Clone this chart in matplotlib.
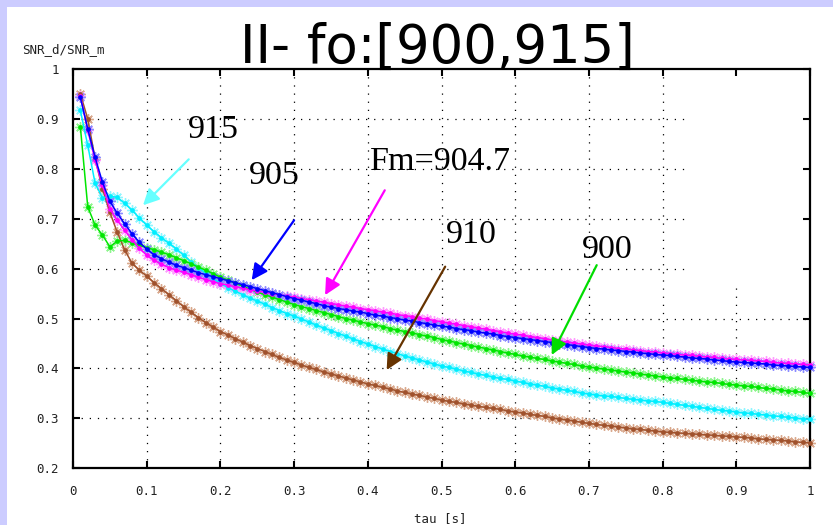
import numpy as np
import matplotlib
matplotlib.use("Agg")
import matplotlib.pyplot as plt
from matplotlib.patches import Rectangle

# Time constant axis (s)
tau = np.round(np.arange(1, 101) * 0.01, 2)

# SNR_d / SNR_m for each operating frequency
snr_900 = [
    0.884, 0.724, 0.687, 0.667, 0.644, 0.655, 0.657, 0.652, 0.647, 0.642,
    0.638, 0.633, 0.628, 0.622, 0.616, 0.610, 0.603, 0.597, 0.590, 0.583,
    0.577, 0.571, 0.565, 0.559, 0.553, 0.548, 0.543, 0.538, 0.533, 0.528,
    0.524, 0.520, 0.516, 0.512, 0.508, 0.504, 0.500, 0.497, 0.493, 0.490,
    0.487, 0.484, 0.480, 0.477, 0.474, 0.471, 0.468, 0.465, 0.462, 0.458,
    0.455, 0.452, 0.449, 0.446, 0.443, 0.440, 0.437, 0.434, 0.431, 0.428,
    0.425, 0.423, 0.420, 0.418, 0.415, 0.413, 0.410, 0.408, 0.405, 0.403,
    0.401, 0.399, 0.397, 0.395, 0.393, 0.391, 0.389, 0.387, 0.385, 0.383,
    0.381, 0.380, 0.378, 0.376, 0.375, 0.373, 0.372, 0.370, 0.368, 0.367,
    0.365, 0.364, 0.362, 0.360, 0.359, 0.357, 0.355, 0.354, 0.352, 0.350,
]
snr_905 = [
    0.943, 0.880, 0.823, 0.773, 0.735, 0.711, 0.690, 0.670, 0.653, 0.639,
    0.628, 0.620, 0.613, 0.607, 0.602, 0.597, 0.592, 0.588, 0.584, 0.580,
    0.576, 0.572, 0.568, 0.564, 0.560, 0.556, 0.552, 0.548, 0.544, 0.540,
    0.537, 0.533, 0.530, 0.526, 0.523, 0.520, 0.518, 0.515, 0.513, 0.510,
    0.507, 0.505, 0.502, 0.500, 0.497, 0.495, 0.492, 0.490, 0.487, 0.485,
    0.483, 0.480, 0.478, 0.476, 0.473, 0.471, 0.469, 0.466, 0.464, 0.462,
    0.460, 0.458, 0.456, 0.454, 0.452, 0.450, 0.448, 0.446, 0.444, 0.442,
    0.440, 0.439, 0.437, 0.436, 0.434, 0.433, 0.431, 0.430, 0.428, 0.427,
    0.426, 0.424, 0.423, 0.421, 0.420, 0.419, 0.417, 0.416, 0.414, 0.413,
    0.412, 0.411, 0.410, 0.409, 0.407, 0.406, 0.405, 0.404, 0.403, 0.402,
]
snr_910 = [
    0.950, 0.900, 0.820, 0.760, 0.713, 0.673, 0.638, 0.611, 0.597, 0.585,
    0.572, 0.560, 0.548, 0.536, 0.524, 0.513, 0.502, 0.492, 0.483, 0.474,
    0.467, 0.460, 0.453, 0.446, 0.440, 0.434, 0.428, 0.422, 0.417, 0.412,
    0.407, 0.402, 0.398, 0.393, 0.389, 0.385, 0.381, 0.377, 0.373, 0.369,
    0.366, 0.362, 0.359, 0.355, 0.352, 0.349, 0.346, 0.343, 0.340, 0.337,
    0.334, 0.332, 0.329, 0.327, 0.324, 0.322, 0.320, 0.318, 0.315, 0.313,
    0.311, 0.308, 0.306, 0.304, 0.301, 0.299, 0.297, 0.295, 0.292, 0.290,
    0.288, 0.286, 0.285, 0.283, 0.281, 0.279, 0.278, 0.276, 0.275, 0.273,
    0.272, 0.271, 0.270, 0.269, 0.268, 0.267, 0.266, 0.265, 0.264, 0.263,
    0.262, 0.261, 0.259, 0.258, 0.257, 0.256, 0.255, 0.253, 0.252, 0.251,
]
snr_915 = [
    0.917, 0.847, 0.771, 0.742, 0.745, 0.743, 0.731, 0.717, 0.702, 0.687,
    0.674, 0.662, 0.651, 0.640, 0.627, 0.614, 0.602, 0.591, 0.580, 0.570,
    0.562, 0.555, 0.548, 0.541, 0.535, 0.529, 0.522, 0.516, 0.510, 0.505,
    0.499, 0.493, 0.487, 0.481, 0.476, 0.470, 0.465, 0.459, 0.454, 0.449,
    0.444, 0.439, 0.434, 0.430, 0.425, 0.421, 0.417, 0.413, 0.409, 0.405,
    0.402, 0.399, 0.395, 0.392, 0.389, 0.386, 0.383, 0.380, 0.378, 0.375,
    0.372, 0.369, 0.367, 0.364, 0.361, 0.359, 0.356, 0.354, 0.351, 0.349,
    0.347, 0.345, 0.344, 0.342, 0.340, 0.338, 0.337, 0.335, 0.334, 0.332,
    0.330, 0.328, 0.326, 0.324, 0.322, 0.320, 0.318, 0.316, 0.315, 0.313,
    0.311, 0.310, 0.308, 0.307, 0.305, 0.304, 0.302, 0.301, 0.299, 0.298,
]
snr_fm = [
    0.946, 0.877, 0.817, 0.767, 0.720, 0.697, 0.677, 0.658, 0.641, 0.627,
    0.617, 0.609, 0.602, 0.597, 0.593, 0.588, 0.583, 0.578, 0.574, 0.570,
    0.567, 0.564, 0.561, 0.558, 0.555, 0.553, 0.550, 0.548, 0.545, 0.543,
    0.540, 0.538, 0.535, 0.533, 0.530, 0.528, 0.525, 0.523, 0.520, 0.518,
    0.516, 0.513, 0.511, 0.508, 0.506, 0.504, 0.501, 0.499, 0.496, 0.494,
    0.491, 0.489, 0.486, 0.484, 0.481, 0.479, 0.476, 0.474, 0.471, 0.469,
    0.467, 0.464, 0.462, 0.460, 0.457, 0.455, 0.453, 0.451, 0.449, 0.447,
    0.445, 0.444, 0.442, 0.440, 0.439, 0.437, 0.436, 0.434, 0.433, 0.431,
    0.430, 0.428, 0.427, 0.426, 0.424, 0.423, 0.422, 0.420, 0.419, 0.418,
    0.417, 0.416, 0.415, 0.414, 0.412, 0.411, 0.410, 0.409, 0.408, 0.407,
]

x_ticks = [0, 0.1, 0.2, 0.3, 0.4, 0.5, 0.6, 0.7, 0.8, 0.9, 1]
x_tick_labels = ["0", "0.1", "0.2", "0.3", "0.4", "0.5", "0.6", "0.7", "0.8", "0.9", "1"]
y_ticks = [0.2, 0.3, 0.4, 0.5, 0.6, 0.7, 0.8, 0.9, 1]
y_tick_labels = ["0.2", "0.3", "0.4", "0.5", "0.6", "0.7", "0.8", "0.9", "1"]

title = "II- fo:[900,915]"
x_label = "tau [s]"
y_label = "SNR_d/SNR_m"

# (values, line colour, halo colour)
series = [
    (snr_910, "#a0522d", "#d9a98e"),
    (snr_915, "#00eeff", "#8ff6ff"),
    (snr_900, "#00e600", "#8ef58e"),
    (snr_fm, "#ff00ff", "#ff9cff"),
    (snr_905, "#0000ff", "#8c8cff"),
]

# label text, arrow colour, label anchor, arrow tail, arrow head (data units)
callouts = [
    ("915", "#66ffff", (0.190, 0.861), (0.157, 0.819), (0.095, 0.727)),
    ("905", "#0000ff", (0.273, 0.769), (0.300, 0.697), (0.2425, 0.577)),
    ("Fm=904.7", "#ff00ff", (0.498, 0.797), (0.423, 0.757), (0.342, 0.547)),
    ("910", "#663300", (0.540, 0.651), (0.505, 0.604), (0.4256, 0.397)),
    ("900", "#00dd00", (0.7246, 0.621), (0.7106, 0.607), (0.6495, 0.427)),
]

W, H = 833, 525
fig = plt.figure(figsize=(W / 100, H / 100), dpi=100)
fig.patch.set_facecolor("white")
# lavender frame strips along the top and left edges
fig.patches.append(Rectangle((0, 1 - 7 / H), 1, 7 / H, transform=fig.transFigure,
                             facecolor="#ccccff", edgecolor="none", zorder=0))
fig.patches.append(Rectangle((0, 0), 7 / W, 1, transform=fig.transFigure,
                             facecolor="#ccccff", edgecolor="none", zorder=0))

ax = fig.add_axes([73 / W, 1 - 468.3 / H, (810 - 73) / W, (468.3 - 69) / H])
ax.set_xlim(0, 1)
ax.set_ylim(0.2, 1)

mono = "DejaVu Sans Mono"
ax.set_xticks(x_ticks)
ax.set_xticklabels(x_tick_labels, family=mono, fontsize=9, color="#222222")
ax.set_yticks(y_ticks)
ax.set_yticklabels(y_tick_labels, family=mono, fontsize=9, color="#222222")
ax.tick_params(direction="in", length=5, width=1.5, top=True, right=True,
               pad=10)
ax.tick_params(axis="x", pad=12)
for s in ax.spines.values():
    s.set_linewidth(1.6)

# dotted grid
for xv in x_ticks[1:-1]:
    ax.axvline(xv, color="black", lw=0.9, ls=(0, (1, 5.5)), zorder=0.5)
for yv in y_ticks[1:-1]:
    ax.axhline(yv, color="black", lw=0.9, ls=(0, (1, 5.5)), zorder=0.5)
# empty key area in the upper right
ax.add_patch(Rectangle((0.837, 0.565), 0.2, 0.5, facecolor="white",
                       edgecolor="none", zorder=0.8))

for vals, col, halo in series:
    ax.plot(tau, vals, ls="none", marker=(8, 2, 0), ms=7.5, mew=1.0,
            color=halo, zorder=2, clip_on=False)
    ax.plot(tau, vals, "-", lw=1.1, color=col, marker="o", ms=3.4,
            mew=0, zorder=3, clip_on=False)

for text, col, pos, tail, head in callouts:
    ax.text(pos[0], pos[1], text, family="Liberation Serif", fontsize=24.5,
            ha="center", va="baseline", color="black", zorder=5)
    ax.annotate("", xy=head, xytext=tail,
                arrowprops=dict(arrowstyle="-|>", color=col, lw=1.6,
                                mutation_scale=24, shrinkA=0, shrinkB=0),
                zorder=4)

fig.text(437.5 / W, 1 - 63 / H, title, family="DejaVu Sans", fontsize=38,
         ha="center", va="baseline", color="black")
fig.text(22 / W, 1 - 53 / H, y_label, family=mono, fontsize=9,
         ha="left", va="baseline", color="#222222")
fig.text(440 / W, 1 - 522 / H, x_label, family=mono, fontsize=9,
         ha="center", va="baseline", color="#222222")

fig.savefig("out.png", dpi=100, facecolor=fig.get_facecolor())
